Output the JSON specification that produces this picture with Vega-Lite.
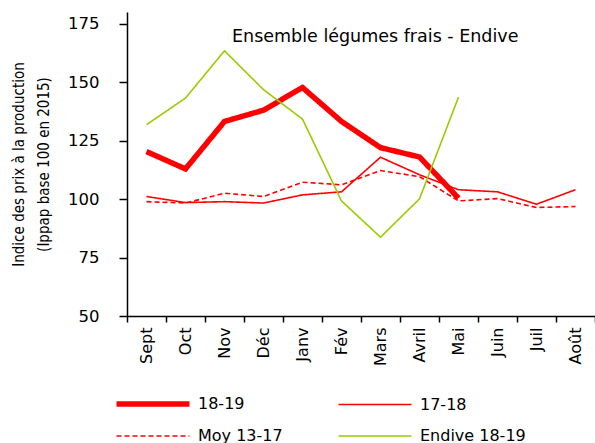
{
  "$schema": "https://vega.github.io/schema/vega-lite/v6.json",
  "autosize": "none",
  "width": 468,
  "height": 304,
  "padding": {"left": 127, "top": 12, "right": 0, "bottom": 127},
  "background": "white",
  "config": {
    "font": "DejaVu Sans",
    "view": {"stroke": null}
  },
  "title": {
    "text": "Ensemble légumes frais - Endive",
    "fontSize": 17.5,
    "fontWeight": "normal",
    "font": "DejaVu Sans",
    "anchor": "start",
    "frame": "group",
    "dx": 105,
    "dy": 37,
    "color": "black"
  },
  "data": {
    "values": [
      {"month": "Sept", "series": "18-19", "value": 120.3},
      {"month": "Oct", "series": "18-19", "value": 112.9},
      {"month": "Nov", "series": "18-19", "value": 133.2},
      {"month": "Déc", "series": "18-19", "value": 138.0},
      {"month": "Janv", "series": "18-19", "value": 147.7},
      {"month": "Fév", "series": "18-19", "value": 133.2},
      {"month": "Mars", "series": "18-19", "value": 122.0},
      {"month": "Avril", "series": "18-19", "value": 118.0},
      {"month": "Mai", "series": "18-19", "value": 100.4},
      {"month": "Sept", "series": "17-18", "value": 101.1},
      {"month": "Oct", "series": "17-18", "value": 98.5},
      {"month": "Nov", "series": "17-18", "value": 98.9},
      {"month": "Déc", "series": "17-18", "value": 98.3},
      {"month": "Janv", "series": "17-18", "value": 101.8},
      {"month": "Fév", "series": "17-18", "value": 103.1},
      {"month": "Mars", "series": "17-18", "value": 117.9},
      {"month": "Avril", "series": "17-18", "value": 110.4},
      {"month": "Mai", "series": "17-18", "value": 104.0},
      {"month": "Juin", "series": "17-18", "value": 103.1},
      {"month": "Juil", "series": "17-18", "value": 97.8},
      {"month": "Août", "series": "17-18", "value": 104.0},
      {"month": "Sept", "series": "Moy 13-17", "value": 98.9},
      {"month": "Oct", "series": "Moy 13-17", "value": 98.3},
      {"month": "Nov", "series": "Moy 13-17", "value": 102.5},
      {"month": "Déc", "series": "Moy 13-17", "value": 101.1},
      {"month": "Janv", "series": "Moy 13-17", "value": 107.2},
      {"month": "Fév", "series": "Moy 13-17", "value": 106.1},
      {"month": "Mars", "series": "Moy 13-17", "value": 112.2},
      {"month": "Avril", "series": "Moy 13-17", "value": 109.6},
      {"month": "Mai", "series": "Moy 13-17", "value": 99.2},
      {"month": "Juin", "series": "Moy 13-17", "value": 100.2},
      {"month": "Juil", "series": "Moy 13-17", "value": 96.4},
      {"month": "Août", "series": "Moy 13-17", "value": 96.8},
      {"month": "Sept", "series": "Endive 18-19", "value": 131.8},
      {"month": "Oct", "series": "Endive 18-19", "value": 143.2},
      {"month": "Nov", "series": "Endive 18-19", "value": 163.4},
      {"month": "Déc", "series": "Endive 18-19", "value": 146.8},
      {"month": "Janv", "series": "Endive 18-19", "value": 134.2},
      {"month": "Fév", "series": "Endive 18-19", "value": 99.2},
      {"month": "Mars", "series": "Endive 18-19", "value": 83.7},
      {"month": "Avril", "series": "Endive 18-19", "value": 100.1},
      {"month": "Mai", "series": "Endive 18-19", "value": 143.6}
    ]
  },
  "mark": {"type": "line", "strokeJoin": "miter", "strokeCap": "butt"},
  "encoding": {
    "x": {
      "field": "month",
      "type": "nominal",
      "sort": ["Sept", "Oct", "Nov", "Déc", "Janv", "Fév", "Mars", "Avril", "Mai", "Juin", "Juil", "Août"],
      "scale": {"type": "band", "paddingInner": 0, "paddingOuter": 0},
      "bandPosition": 0.5,
      "axis": {
        "title": null,
        "labelAngle": -90,
        "labelFontSize": 16,
        "labelColor": "black",
        "labelPadding": 5,
        "tickBand": "extent",
        "tickSize": 6,
        "tickColor": "black",
        "tickWidth": 1.5,
        "domainColor": "black",
        "domainWidth": 1.5,
        "grid": false
      }
    },
    "y": {
      "field": "value",
      "type": "quantitative",
      "scale": {"domain": [50, 180], "nice": false, "zero": false},
      "axis": {
        "values": [50, 75, 100, 125, 150, 175],
        "title": ["Indice des prix à la production", "(Ippap base 100 en 2015)"],
        "titleFont": "'DejaVu Sans Condensed', 'Liberation Sans', sans-serif",
        "titleFontSize": 15,
        "titleFontWeight": "normal",
        "titleColor": "black",
        "titleLineHeight": 25,
        "titleX": -116,
        "titleY": 152,
        "titleAngle": -90,
        "titleAlign": "center",
        "titleBaseline": "top",
        "labelFontSize": 16.5,
        "labelColor": "black",
        "labelPadding": 20,
        "tickSize": 8,
        "tickColor": "black",
        "tickWidth": 1.5,
        "domainColor": "black",
        "domainWidth": 1.5,
        "grid": false
      }
    },
    "color": {
      "field": "series",
      "type": "nominal",
      "sort": ["18-19", "17-18", "Moy 13-17", "Endive 18-19"],
      "scale": {
        "domain": ["18-19", "17-18", "Moy 13-17", "Endive 18-19"],
        "range": ["#FF0000", "#FF0000", "#FF0000", "#99CC00"]
      },
      "legend": {
        "title": null,
        "orient": "none",
        "legendX": 14,
        "legendY": 380,
        "direction": "horizontal",
        "columns": 2,
        "symbolType": "M-4,0H4",
        "symbolSize": 333,
        "labelFontSize": 16,
        "labelColor": "black",
        "labelOffset": 33,
        "columnPadding": 52,
        "rowPadding": 11,
        "padding": 0
      }
    },
    "strokeWidth": {
      "field": "series",
      "type": "nominal",
      "scale": {
        "type": "ordinal",
        "domain": ["18-19", "17-18", "Moy 13-17", "Endive 18-19"],
        "range": [5.5, 1.6, 1.6, 1.6]
      },
      "legend": null
    },
    "strokeDash": {
      "field": "series",
      "type": "nominal",
      "scale": {
        "domain": ["18-19", "17-18", "Moy 13-17", "Endive 18-19"],
        "range": [[1, 0], [1, 0], [5, 3], [1, 0]]
      },
      "legend": null
    }
  }
}
